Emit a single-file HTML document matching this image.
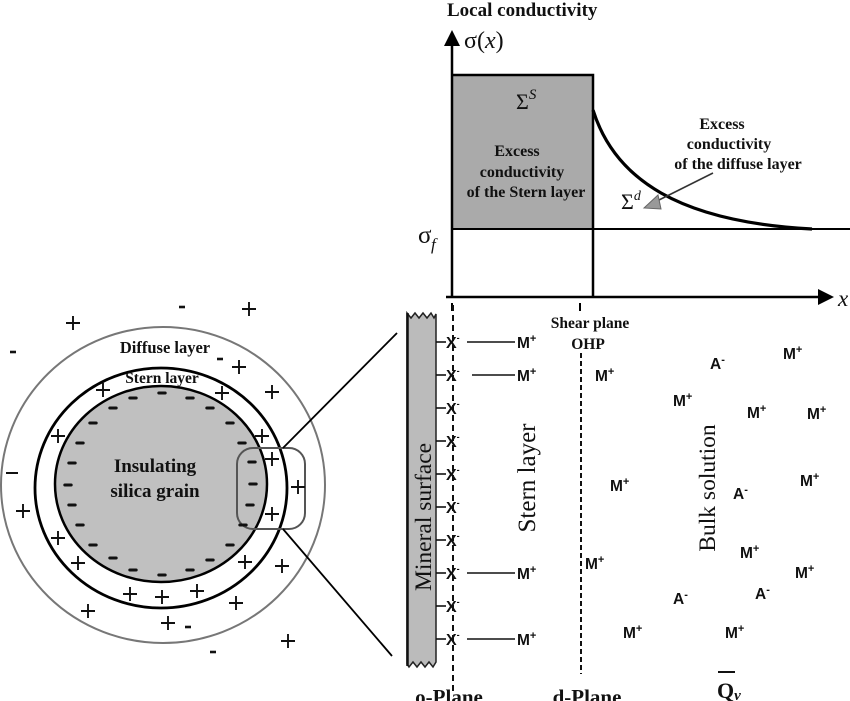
<!DOCTYPE html>
<html><head><meta charset="utf-8"><style>
html,body{margin:0;padding:0;background:#fff;}
svg{display:block;}
</style></head><body>
<svg width="850" height="701" viewBox="0 0 850 701" xmlns="http://www.w3.org/2000/svg">
<defs>
<g id="p"><path d="M-7,0H7M0,-7V7" stroke="#111" stroke-width="1.9" fill="none"/></g>
<g id="m"><path d="M-3.2,0H3.2" stroke="#111" stroke-width="3" stroke-linecap="round" fill="none"/></g>
<g id="mo"><path d="M-3,0H3" stroke="#111" stroke-width="2.6" fill="none"/></g>
</defs>

<!-- ===== Top chart ===== -->
<rect x="452" y="75" width="141" height="154" fill="#aaaaaa"/>
<path d="M452,75H593V297" fill="none" stroke="#000" stroke-width="2.5"/>
<line x1="452" y1="229" x2="850" y2="229" stroke="#000" stroke-width="2"/>
<line x1="452" y1="44" x2="452" y2="298" stroke="#000" stroke-width="2.5"/>
<polygon points="452,30 444,46 460,46" fill="#000"/>
<line x1="446" y1="297" x2="820" y2="297" stroke="#000" stroke-width="2.5"/>
<polygon points="834,297 818,289 818,305" fill="#000"/>
<path d="M593,110 C615,180 680,222 812,229" fill="none" stroke="#000" stroke-width="3.2"/>
<line x1="452" y1="303" x2="452" y2="311" stroke="#000" stroke-width="2"/>
<line x1="580" y1="303" x2="580" y2="311" stroke="#000" stroke-width="2"/>

<text x="447" y="16" font-family="Liberation Serif" font-weight="bold" font-size="19" fill="#111">Local conductivity</text>
<text x="464" y="48" font-family="Liberation Serif" font-size="24" fill="#111">σ(<tspan font-style="italic">x</tspan>)</text>
<text x="838" y="306" font-family="Liberation Serif" font-style="italic" font-size="23" fill="#111">x</text>
<text x="418" y="243" font-family="Liberation Serif" font-size="25" fill="#111">σ</text>
<text x="431" y="250" font-family="Liberation Serif" font-style="italic" font-size="17" fill="#111">f</text>

<text x="516" y="109" font-family="Liberation Serif" font-size="22" fill="#111">Σ<tspan dy="-10" font-size="15" font-style="italic">S</tspan></text>
<g font-family="Liberation Serif" font-weight="bold" font-size="16" fill="#111" text-anchor="middle">
<text x="517" y="156">Excess</text>
<text x="522" y="177">conductivity</text>
<text x="526" y="197">of the Stern layer</text>
<text x="722" y="129">Excess</text>
<text x="729" y="149">conductivity</text>
<text x="738" y="169">of the diffuse layer</text>
</g>
<text x="621" y="209" font-family="Liberation Serif" font-size="22" fill="#111">Σ<tspan dy="-9" font-size="14" font-style="italic">d</tspan></text>
<line x1="713" y1="173" x2="655" y2="202" stroke="#333" stroke-width="1.6"/>
<polygon points="644,208 658,195 661,209" fill="#999" stroke="#666" stroke-width="1"/>

<!-- ===== Left circle ===== -->
<ellipse cx="163" cy="485" rx="162" ry="158" fill="none" stroke="#777" stroke-width="2"/>
<ellipse cx="161" cy="488" rx="126" ry="120" fill="none" stroke="#000" stroke-width="2.8"/>
<ellipse cx="161" cy="484" rx="106" ry="98" fill="#c0c0c0" stroke="#000" stroke-width="2.5"/>
<rect x="237" y="448" width="68" height="81" rx="16" fill="none" stroke="#555" stroke-width="2"/>
<line x1="283" y1="448" x2="397" y2="333" stroke="#000" stroke-width="1.8"/>
<line x1="283" y1="529" x2="392" y2="656" stroke="#000" stroke-width="1.8"/>

<g font-family="Liberation Serif" font-weight="bold" fill="#111" text-anchor="middle">
<text x="165" y="353" font-size="16.5">Diffuse layer</text>
<text x="162" y="383" font-size="15.5">Stern layer</text>
<text x="155" y="472" font-size="19">Insulating</text>
<text x="155" y="497" font-size="19">silica grain</text>
</g>

<!-- minus on grain -->
<g>
<use href="#m" x="162" y="393"/><use href="#m" x="133" y="398"/><use href="#m" x="190" y="398"/>
<use href="#m" x="113" y="408"/><use href="#m" x="210" y="408"/><use href="#m" x="93" y="423"/>
<use href="#m" x="230" y="423"/><use href="#m" x="80" y="443"/><use href="#m" x="242" y="443"/>
<use href="#m" x="72" y="463"/><use href="#m" x="252" y="462"/><use href="#m" x="68" y="485"/>
<use href="#m" x="253" y="484"/><use href="#m" x="72" y="505"/><use href="#m" x="250" y="505"/>
<use href="#m" x="80" y="525"/><use href="#m" x="243" y="525"/><use href="#m" x="93" y="545"/>
<use href="#m" x="230" y="545"/><use href="#m" x="113" y="558"/><use href="#m" x="210" y="560"/>
<use href="#m" x="133" y="570"/><use href="#m" x="190" y="570"/><use href="#m" x="162" y="575"/>
</g>
<!-- plus signs -->
<g>
<use href="#p" x="103" y="390"/><use href="#p" x="222" y="393"/><use href="#p" x="272" y="392"/>
<use href="#p" x="239" y="367"/><use href="#p" x="58" y="436"/><use href="#p" x="262" y="436"/>
<use href="#p" x="272" y="459"/><use href="#p" x="298" y="487"/><use href="#p" x="272" y="514"/>
<use href="#p" x="23" y="511"/><use href="#p" x="58" y="538"/><use href="#p" x="78" y="563"/>
<use href="#p" x="245" y="562"/><use href="#p" x="282" y="566"/><use href="#p" x="130" y="594"/>
<use href="#p" x="162" y="597"/><use href="#p" x="197" y="591"/><use href="#p" x="236" y="603"/>
<use href="#p" x="88" y="611"/><use href="#p" x="168" y="623"/><use href="#p" x="288" y="641"/>
<use href="#p" x="73" y="323"/><use href="#p" x="249" y="309"/>
</g>
<g>
<use href="#mo" x="220" y="359"/><use href="#mo" x="188" y="627"/><use href="#mo" x="213" y="652"/>
<use href="#mo" x="182" y="307"/><use href="#mo" x="13" y="352"/>
<path d="M6,473H18" stroke="#111" stroke-width="2"/>
</g>

<!-- ===== Lower right panel ===== -->
<path d="M407,313 L411,318 L415,313 L419,318 L423,313 L427,318 L431,313 L434,318 L436,314 L436,662 L433,667 L429,662 L425,667 L421,662 L417,667 L413,662 L409,667 L407,664 Z" fill="#bbbbbb" stroke="#222" stroke-width="1.5"/>
<line x1="407.5" y1="313" x2="407.5" y2="666" stroke="#111" stroke-width="2.5"/>
<text transform="translate(431,517) rotate(-90)" text-anchor="middle" font-family="Liberation Serif" font-size="23.5" fill="#111">Mineral surface</text>

<line x1="453" y1="305" x2="453" y2="692" stroke="#111" stroke-width="2" stroke-dasharray="6,4"/>
<line x1="581" y1="353" x2="581" y2="674" stroke="#111" stroke-width="2" stroke-dasharray="5,3"/>

<g stroke="#111" stroke-width="1.6">
<line x1="436" y1="342" x2="446" y2="342"/><line x1="436" y1="375" x2="446" y2="375"/>
<line x1="436" y1="408" x2="446" y2="408"/><line x1="436" y1="441" x2="446" y2="441"/>
<line x1="436" y1="474" x2="446" y2="474"/><line x1="436" y1="507" x2="446" y2="507"/>
<line x1="436" y1="540" x2="446" y2="540"/><line x1="436" y1="573" x2="446" y2="573"/>
<line x1="436" y1="606" x2="446" y2="606"/><line x1="436" y1="639" x2="446" y2="639"/>
<line x1="467" y1="342" x2="515" y2="342"/><line x1="472" y1="375" x2="515" y2="375"/>
<line x1="467" y1="573" x2="515" y2="573"/><line x1="467" y1="639" x2="515" y2="639"/>
</g>
<g font-family="Liberation Sans" font-weight="bold" font-size="16" fill="#111">
<text x="446" y="348">X<tspan dy="-7" font-size="9">-</tspan></text>
<text x="446" y="381">X<tspan dy="-7" font-size="9">-</tspan></text>
<text x="446" y="414">X<tspan dy="-7" font-size="9">-</tspan></text>
<text x="446" y="447">X<tspan dy="-7" font-size="9">-</tspan></text>
<text x="446" y="480">X<tspan dy="-7" font-size="9">-</tspan></text>
<text x="446" y="513">X<tspan dy="-7" font-size="9">-</tspan></text>
<text x="446" y="546">X<tspan dy="-7" font-size="9">-</tspan></text>
<text x="446" y="579">X<tspan dy="-7" font-size="9">-</tspan></text>
<text x="446" y="612">X<tspan dy="-7" font-size="9">-</tspan></text>
<text x="446" y="645">X<tspan dy="-7" font-size="9">-</tspan></text>
</g>
<g font-family="Liberation Sans" font-weight="bold" font-size="15.5" fill="#111">
<text x="517" y="348">M<tspan dy="-6" font-size="11">+</tspan></text>
<text x="517" y="381">M<tspan dy="-6" font-size="11">+</tspan></text>
<text x="517" y="579">M<tspan dy="-6" font-size="11">+</tspan></text>
<text x="517" y="645">M<tspan dy="-6" font-size="11">+</tspan></text>
<text x="595" y="381">M<tspan dy="-6" font-size="11">+</tspan></text>
<text x="783" y="359">M<tspan dy="-6" font-size="11">+</tspan></text>
<text x="673" y="406">M<tspan dy="-6" font-size="11">+</tspan></text>
<text x="747" y="418">M<tspan dy="-6" font-size="11">+</tspan></text>
<text x="807" y="419">M<tspan dy="-6" font-size="11">+</tspan></text>
<text x="610" y="491">M<tspan dy="-6" font-size="11">+</tspan></text>
<text x="800" y="486">M<tspan dy="-6" font-size="11">+</tspan></text>
<text x="585" y="569">M<tspan dy="-6" font-size="11">+</tspan></text>
<text x="740" y="558">M<tspan dy="-6" font-size="11">+</tspan></text>
<text x="795" y="578">M<tspan dy="-6" font-size="11">+</tspan></text>
<text x="623" y="638">M<tspan dy="-6" font-size="11">+</tspan></text>
<text x="725" y="638">M<tspan dy="-6" font-size="11">+</tspan></text>
<text x="710" y="369">A<tspan dy="-6" font-size="11">-</tspan></text>
<text x="733" y="499">A<tspan dy="-6" font-size="11">-</tspan></text>
<text x="673" y="604">A<tspan dy="-6" font-size="11">-</tspan></text>
<text x="755" y="599">A<tspan dy="-6" font-size="11">-</tspan></text>
</g>

<g font-family="Liberation Serif" font-weight="bold" font-size="15.5" fill="#111" text-anchor="middle">
<text x="590" y="328">Shear plane</text>
<text x="588" y="349">OHP</text>
</g>
<text transform="translate(535,478) rotate(-90)" text-anchor="middle" font-family="Liberation Serif" font-size="25" fill="#111">Stern layer</text>
<text transform="translate(715,488) rotate(-90)" text-anchor="middle" font-family="Liberation Serif" font-size="23.5" fill="#111">Bulk solution</text>

<g font-family="Liberation Serif" font-weight="bold" font-size="21" fill="#111" text-anchor="middle">
<text x="449" y="704">o-Plane</text>
<text x="587" y="704">d-Plane</text>
</g>
<line x1="718" y1="672" x2="735" y2="672" stroke="#111" stroke-width="2"/>
<text x="717" y="698" font-family="Liberation Serif" font-weight="bold" font-size="22" fill="#111">Q<tspan font-size="15" font-style="italic" dy="2">v</tspan></text>
</svg>
</body></html>
